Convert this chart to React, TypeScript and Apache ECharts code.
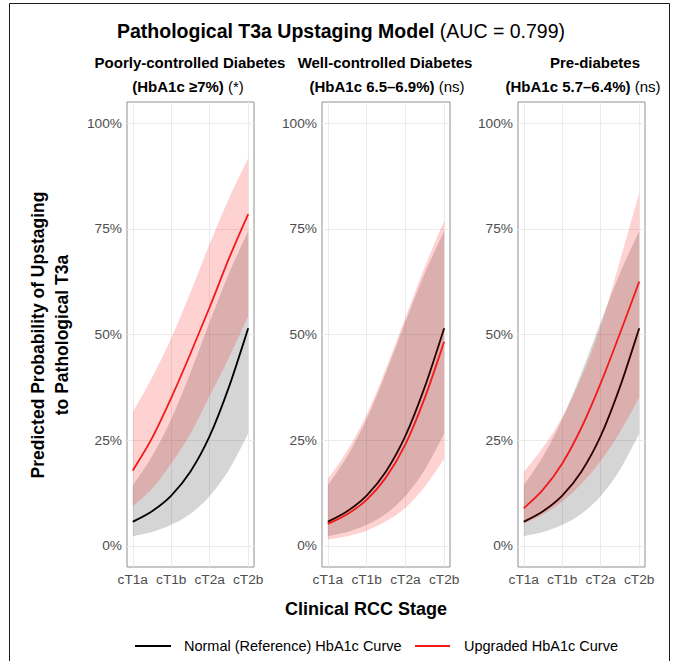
import React, { useEffect, useRef } from "react";
import * as echarts from "echarts";

// ---- data ----
const stages = ["cT1a", "cT1b", "cT2a", "cT2b"];
const stageTicks = [0, 1, 2, 3];
// positions along the stage axis where the curves were read (stage index, half steps)
const readPositions = [0, 0.5, 1, 1.5, 2, 2.5, 3];
const yTicks = [0, 25, 50, 75, 100];

// Normal (reference) HbA1c curve and its CI (same in every panel), %
const refCurve = [5.7, 8.2, 11.9, 17.6, 26.0, 37.6, 51.5];
const refLower = [2.3, 3.3, 5.0, 7.6, 11.8, 18.0, 26.5];
const refUpper = [14.3, 21.2, 30.0, 41.0, 53.0, 64.5, 74.5];

// Poorly-controlled diabetes
const poorCurve = [17.8, 25.5, 35.0, 45.5, 56.5, 68.0, 78.5];
const poorLower = [9.4, 13.5, 19.5, 26.5, 35.5, 44.5, 54.4];
const poorUpper = [31.6, 39.8, 49.2, 60.0, 71.5, 82.2, 91.7];

// Well-controlled diabetes
const wellCurve = [5.2, 7.5, 10.9, 16.2, 24.0, 35.0, 48.3];
const wellLower = [1.5, 2.3, 3.6, 5.8, 9.0, 14.0, 20.6];
const wellUpper = [15.8, 22.5, 31.0, 42.0, 54.0, 66.0, 76.9];

// Pre-diabetes
const preCurve = [8.9, 13.3, 19.5, 28.0, 38.5, 50.3, 62.5];
const preLower = [5.2, 7.4, 10.5, 14.7, 20.1, 26.9, 35.1];
const preUpper = [17.4, 23.3, 30.5, 40.0, 52.0, 67.5, 83.5];

const panelTitles = [
  ["Poorly-controlled Diabetes", "(HbA1c \u22657%)", " (*)"],
  ["Well-controlled Diabetes", "(HbA1c 6.5\u20136.9%)", " (ns)"],
  ["Pre-diabetes", "(HbA1c 5.7\u20136.4%)", " (ns)"],
];
const legendNames = ["Normal (Reference) HbA1c Curve", "Upgraded HbA1c Curve"];

const FONT = "'Liberation Sans', Arial, Helvetica, sans-serif";
const BLACK = "#000000";
const RED = "#F21A1A";
const GRAY_FILL = "rgba(0,0,0,0.165)";
const PINK_FILL = "rgba(255,0,0,0.175)";

const panels = [
  { curve: poorCurve, lower: poorLower, upper: poorUpper, left: 127, width: 127, title1X: 190, title2X: 188 },
  { curve: wellCurve, lower: wellLower, upper: wellUpper, left: 322, width: 128, title1X: 385, title2X: 387 },
  { curve: preCurve, lower: preLower, upper: preUpper, left: 518, width: 127, title1X: 595, title2X: 583 },
];

type P = number[];
// Catmull-Rom spline through pixel points, as SVG path commands (without leading M)
function splineCmds(pts: P[]): string {
  let d = "";
  const n = pts.length;
  for (let i = 0; i < n - 1; i++) {
    const p0 = pts[Math.max(0, i - 1)];
    const p1 = pts[i];
    const p2 = pts[i + 1];
    const p3 = pts[Math.min(n - 1, i + 2)];
    const c1x = p1[0] + (p2[0] - p0[0]) / 6;
    const c1y = p1[1] + (p2[1] - p0[1]) / 6;
    const c2x = p2[0] - (p3[0] - p1[0]) / 6;
    const c2y = p2[1] - (p3[1] - p1[1]) / 6;
    d += ` C${c1x.toFixed(2)},${c1y.toFixed(2)} ${c2x.toFixed(2)},${c2y.toFixed(2)} ${p2[0].toFixed(2)},${p2[1].toFixed(2)}`;
  }
  return d;
}

function toPixels(api: any, vals: number[]): P[] {
  return vals.map((v, i) => api.coord([readPositions[i], v]));
}

function bandSeries(idx: number, lo: number[], hi: number[], fill: string) {
  return {
    type: "custom",
    coordinateSystem: "cartesian2d",
    xAxisIndex: idx,
    yAxisIndex: idx,
    silent: true,
    data: [[0, 0]],
    renderItem: (_params: any, api: any) => {
      const up = toPixels(api, hi);
      const low = toPixels(api, lo).reverse();
      const d =
        `M${up[0][0].toFixed(2)},${up[0][1].toFixed(2)}` +
        splineCmds(up) +
        ` L${low[0][0].toFixed(2)},${low[0][1].toFixed(2)}` +
        splineCmds(low) +
        " Z";
      return { type: "path", shape: { pathData: d }, style: { fill, stroke: "none" } };
    },
  };
}

function curveSeries(idx: number, vals: number[], color: string, name: string) {
  return {
    type: "custom",
    name,
    coordinateSystem: "cartesian2d",
    xAxisIndex: idx,
    yAxisIndex: idx,
    silent: true,
    data: [[0, 0]],
    renderItem: (_params: any, api: any) => {
      const p = toPixels(api, vals);
      const d = `M${p[0][0].toFixed(2)},${p[0][1].toFixed(2)}` + splineCmds(p);
      return { type: "path", shape: { pathData: d }, style: { fill: "none", stroke: color, lineWidth: 1.8 } };
    },
  };
}

export default function App() {
  const ref = useRef<HTMLDivElement>(null);
  useEffect(() => {
    document.body.style.margin = "0";
    if (!ref.current) return;
    const chart = echarts.init(ref.current, undefined, { renderer: "svg" });

    const grid: any[] = [];
    const xAxis: any[] = [];
    const yAxis: any[] = [];
    const series: any[] = [];

    panels.forEach((p, i) => {
      grid.push({
        left: p.left,
        top: 102,
        width: p.width,
        height: 465,
        show: true,
        borderColor: "#8f8f8f",
        borderWidth: 1,
        backgroundColor: "transparent",
        containLabel: false,
      });
      xAxis.push({
        type: "value",
        gridIndex: i,
        min: -0.15,
        max: 3.15,
        axisLine: { show: false },
        axisTick: { show: false, customValues: stageTicks },
        axisLabel: {
          customValues: stageTicks,
          formatter: (v: number) => stages[Math.round(v)] ?? "",
          color: "#4d4d4d",
          fontSize: 13.7,
          fontFamily: FONT,
          margin: 5,
        },
        splitLine: { show: true, lineStyle: { color: "#ebebeb", width: 1 } },
      });
      yAxis.push({
        type: "value",
        gridIndex: i,
        min: -5,
        max: 105,
        axisLine: { show: false },
        axisTick: { show: false, customValues: yTicks },
        axisLabel: {
          customValues: yTicks,
          formatter: (v: number) => v + "%",
          color: "#4d4d4d",
          fontSize: 13.7,
          fontFamily: FONT,
          margin: 5,
        },
        splitLine: { show: true, lineStyle: { color: "#ebebeb", width: 1 } },
      });
      series.push(
        bandSeries(i, refLower, refUpper, GRAY_FILL),
        curveSeries(i, refCurve, BLACK, legendNames[0]),
        bandSeries(i, p.lower, p.upper, PINK_FILL),
        curveSeries(i, p.curve, RED, legendNames[1])
      );
    });

    const graphic: any[] = [
      {
        type: "rect",
        shape: { x: 9.5, y: 3.5, width: 660, height: 700 },
        style: { fill: "none", stroke: "#1a1a1a", lineWidth: 1 },
        silent: true,
      },
      {
        type: "text",
        x: 341,
        y: 31,
        style: {
          text: "{b|Pathological T3a Upstaging Model}{n| (AUC = 0.799)}",
          align: "center",
          verticalAlign: "middle",
          rich: {
            b: { fontWeight: "bold", fontSize: 19.5, fontFamily: FONT, fill: "#000" },
            n: { fontSize: 19.5, fontFamily: FONT, fill: "#000" },
          },
        },
      },
      {
        type: "text",
        x: 50,
        y: 335,
        rotation: Math.PI / 2,
        style: {
          text: "Predicted Probability of Upstaging\nto Pathological T3a",
          align: "center",
          verticalAlign: "middle",
          fontWeight: "bold",
          fontSize: 17.5,
          lineHeight: 24,
          fontFamily: FONT,
          fill: "#000",
        },
      },
      {
        type: "text",
        x: 366,
        y: 609,
        style: {
          text: "Clinical RCC Stage",
          align: "center",
          verticalAlign: "middle",
          fontWeight: "bold",
          fontSize: 18,
          fontFamily: FONT,
          fill: "#000",
        },
      },
      { type: "line", shape: { x1: 135, y1: 646, x2: 171, y2: 646 }, style: { stroke: BLACK, lineWidth: 1.8 } },
      {
        type: "text",
        x: 184,
        y: 646,
        style: { text: legendNames[0], align: "left", verticalAlign: "middle", fontSize: 14.5, fontFamily: FONT, fill: "#000" },
      },
      { type: "line", shape: { x1: 415, y1: 646, x2: 450, y2: 646 }, style: { stroke: RED, lineWidth: 1.8 } },
      {
        type: "text",
        x: 464,
        y: 646,
        style: { text: legendNames[1], align: "left", verticalAlign: "middle", fontSize: 14.5, fontFamily: FONT, fill: "#000" },
      },
    ];
    panels.forEach((p, i) => {
      const t = panelTitles[i];
      graphic.push(
        {
          type: "text",
          x: p.title1X,
          y: 62,
          style: { text: t[0], align: "center", verticalAlign: "middle", fontWeight: "bold", fontSize: 15, fontFamily: FONT, fill: "#000" },
        },
        {
          type: "text",
          x: p.title2X,
          y: 86,
          style: {
            text: "{b|" + t[1] + "}{n|" + t[2] + "}",
            align: "center",
            verticalAlign: "middle",
            rich: {
              b: { fontWeight: "bold", fontSize: 15, fontFamily: FONT, fill: "#000" },
              n: { fontSize: 15, fontFamily: FONT, fill: "#000" },
            },
          },
        }
      );
    });

    chart.setOption({
      animation: false,
      backgroundColor: "#ffffff",
      textStyle: { fontFamily: FONT },
      grid,
      xAxis,
      yAxis,
      series,
      graphic,
    });
    return () => chart.dispose();
  }, []);
  return <div ref={ref} style={{ width: 676, height: 661 }} />;
}
